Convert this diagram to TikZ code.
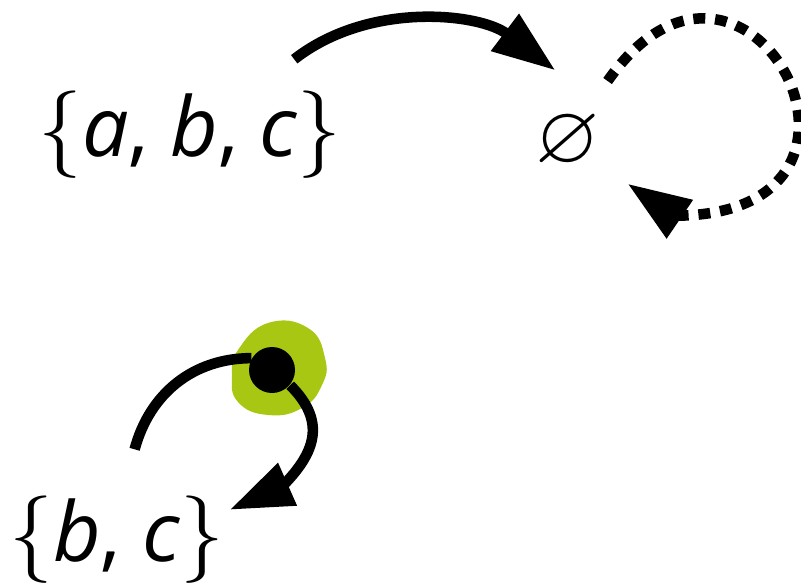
\documentclass[tikz,border=0pt]{standalone}
\usepackage{amssymb}
\usepackage{fontspec}
\setmainfont{Open Sans}
\usetikzlibrary{arrows.meta, calc}
\definecolor{limegreen}{HTML}{A7C713}

\begin{document}
\begin{tikzpicture}[
      setlab/.style={inner sep=0pt, font=\fontsize{23.5}{28}\selectfont},
      arr/.style={line width=3pt, -{Triangle[length=18pt, width=12.5pt]}},
      dots/.style={arr, dash pattern=on 3.4pt off 2.8pt},
      dotnode/.style={circle, fill=black, inner sep=0pt, minimum size=0.46cm}
    ]
    \useasboundingbox (0,0) rectangle (8.01,-5.87);
    \node[setlab, minimum width=3.0cm, minimum height=1.5cm] (abc) at (1.90,-1.35) {$\big\{$\textit{a}, \textit{b}, \textit{c}$\big\}$};
    \node[setlab, circle, minimum size=1.44cm] (empty) at (5.68,-1.42) {$\varnothing$};
    \node[setlab, minimum width=2.24cm, minimum height=1.8cm] (bc) at (1.17,-5.40) {$\big\{$\textit{b}, \textit{c}$\big\}$};
    % bases of the two bent tips
    \coordinate (loopend) at ($(empty.-35)+(0.47,-0.32)$);
    \coordinate (backend) at ($(bc.15)+(0.52,0.23)$);
    % green spot behind the point
    \fill[limegreen] plot[smooth cycle, tension=0.8] coordinates {(2.38,-3.50) (2.68,-3.23) (3.08,-3.28) (3.25,-3.58) (3.22,-3.85) (3.02,-4.08) (2.68,-4.15) (2.38,-4.02) (2.32,-3.75)};
    \node[dotnode] (pt) at (2.72,-3.70) {};
    \draw[arr] (abc.36) to[out=38, in=143, distance=0.95cm] (empty.100);
    \draw[dots] (empty.57) to[out=55, in=0, out distance=2.41cm, in distance=2.48cm] (loopend) -- (empty.-35);
    \draw[line width=3pt] (bc.79) to[out=75, in=180] (pt.150);
    \draw[arr] (pt.-40) to[out=-45, in=45, distance=0.5cm] (backend) -- (bc.15);
  \end{tikzpicture}
\end{document}
